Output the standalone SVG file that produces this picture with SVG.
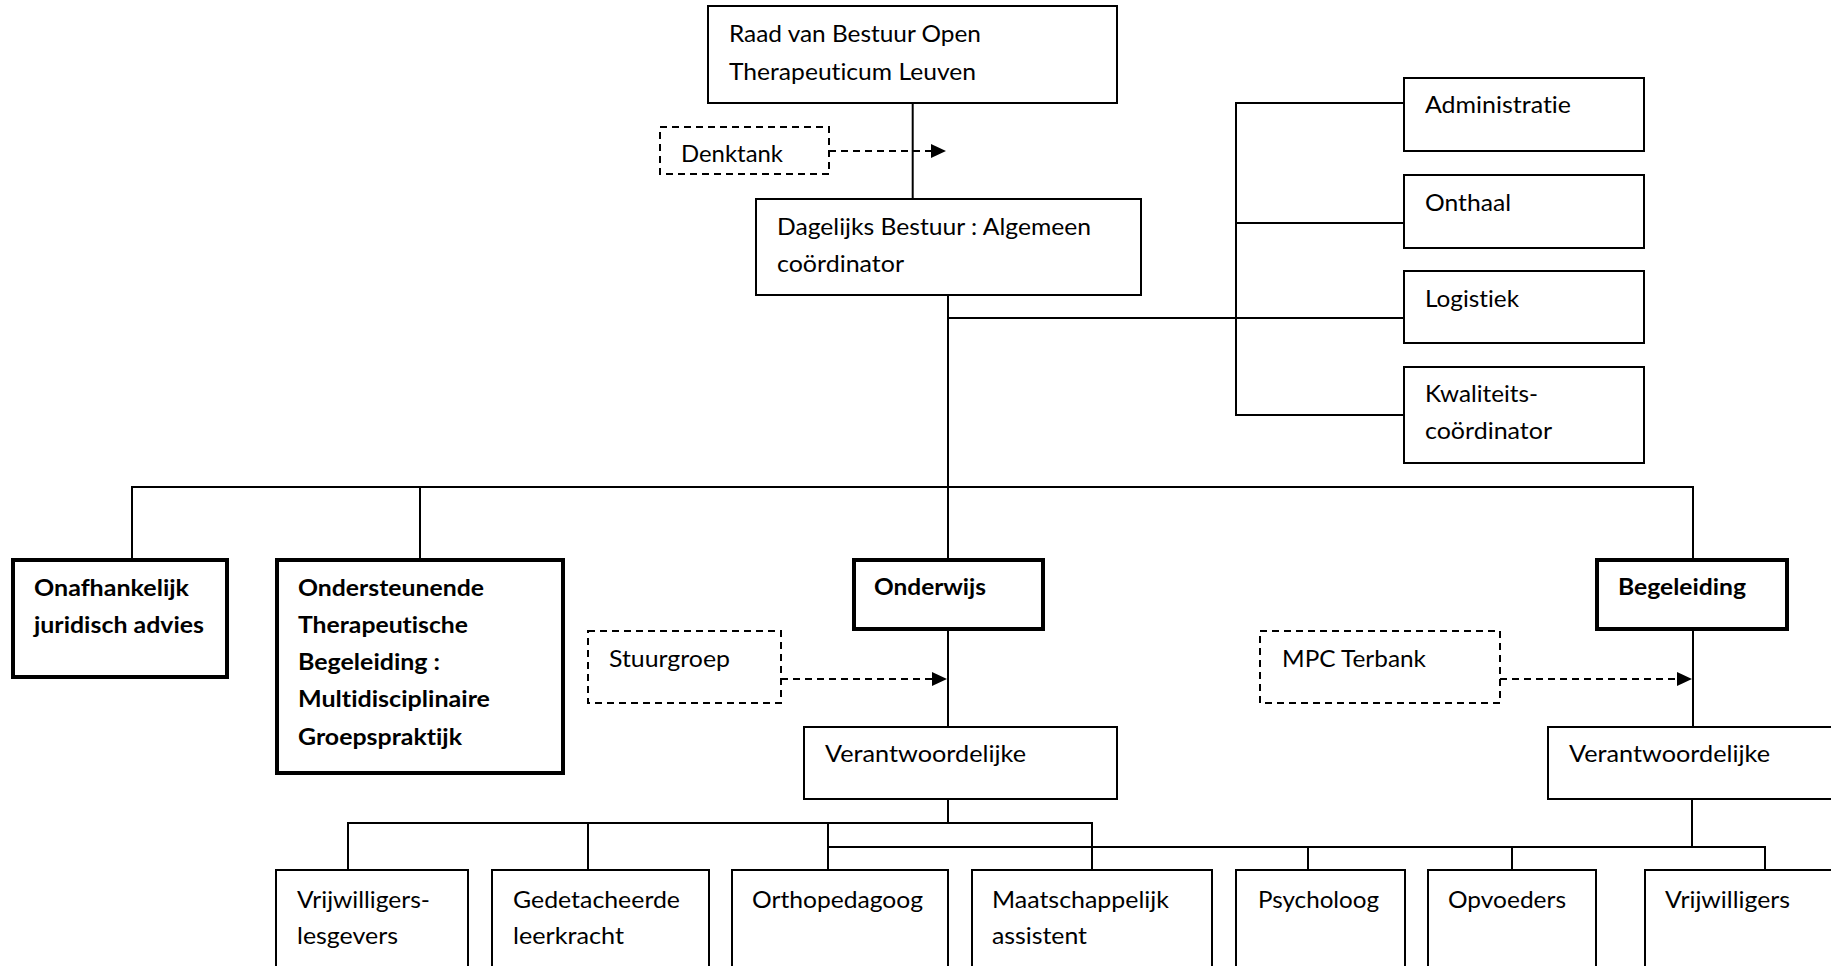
<svg xmlns="http://www.w3.org/2000/svg" width="1831" height="966" viewBox="0 0 1831 966">
<style>
.box{fill:#fff;stroke:#000;stroke-width:2}
.thick{stroke-width:4}
.dash{stroke-dasharray:7 5}
.c{fill:none;stroke:#000;stroke-width:2}
.t{font-family:Lato,"Open Sans","Liberation Sans",sans-serif;font-size:23.5px;fill:#000;font-variant-ligatures:none;font-feature-settings:"liga" 0}
.b{font-weight:700}
</style>
<defs>
<marker id="arr" markerUnits="userSpaceOnUse" markerWidth="16" markerHeight="16" refX="15" refY="7" orient="auto">
<path d="M0,0 L15,7 L0,14 z" fill="#000"/>
</marker>
</defs>
<rect width="1831" height="966" fill="#fff"/>
<g id="connectors">
<path class="c" d="M912.7,103 V199"/>
<path class="c" d="M948,295 V487"/>
<path class="c" d="M948,318 H1404"/>
<path class="c" d="M1404,103 H1236 V415 H1404 M1236,223 H1404"/>
<path class="c" d="M132,558 V487 H1693 V558 M420,487 V558 M948,487 V558"/>
<path class="c" d="M948,631 V727"/>
<path class="c" d="M1693,631 V727"/>
<path class="c" d="M948,799 V823 M348,870 V823 H1092 V870 M588,823 V870 M828,823 V870"/>
<path class="c" d="M1692,799 V847 M828,847 H1765 V870 M1308,847 V870 M1512,847 V870"/>
<path class="c dash" d="M829,151 H946" marker-end="url(#arr)"/>
<path class="c dash" d="M781,679 H947" marker-end="url(#arr)"/>
<path class="c dash" d="M1500,679 H1692" marker-end="url(#arr)"/>
</g>
<g id="raad"><rect class="box" x="708" y="6" width="409" height="97"/>
<text class="t" x="729" y="42" textLength="252" lengthAdjust="spacingAndGlyphs">Raad van Bestuur Open</text>
<text class="t" x="729" y="80" textLength="247" lengthAdjust="spacingAndGlyphs">Therapeuticum Leuven</text></g>
<g id="denktank"><rect class="box dash" x="660" y="127" width="169" height="47"/>
<text class="t" x="681" y="162" textLength="102" lengthAdjust="spacingAndGlyphs">Denktank</text></g>
<g id="dagelijks"><rect class="box" x="756" y="199" width="385" height="96"/>
<text class="t" x="777" y="235" textLength="314" lengthAdjust="spacingAndGlyphs">Dagelijks Bestuur : Algemeen</text>
<text class="t" x="777" y="272" textLength="127" lengthAdjust="spacingAndGlyphs">coördinator</text></g>
<g id="administratie"><rect class="box" x="1404" y="78" width="240" height="73"/>
<text class="t" x="1425" y="113" textLength="146" lengthAdjust="spacingAndGlyphs">Administratie</text></g>
<g id="onthaal"><rect class="box" x="1404" y="175" width="240" height="73"/>
<text class="t" x="1425" y="211" textLength="86" lengthAdjust="spacingAndGlyphs">Onthaal</text></g>
<g id="logistiek"><rect class="box" x="1404" y="271" width="240" height="72"/>
<text class="t" x="1425" y="307" textLength="94" lengthAdjust="spacingAndGlyphs">Logistiek</text></g>
<g id="kwaliteit"><rect class="box" x="1404" y="367" width="240" height="96"/>
<text class="t" x="1425" y="402" textLength="113" lengthAdjust="spacingAndGlyphs">Kwaliteits-</text>
<text class="t" x="1425" y="439" textLength="127" lengthAdjust="spacingAndGlyphs">coördinator</text></g>
<g id="onafhankelijk"><rect class="box thick" x="13" y="560" width="214" height="117"/>
<text class="t b" x="34" y="596" textLength="155" lengthAdjust="spacingAndGlyphs">Onafhankelijk</text>
<text class="t b" x="34" y="633" textLength="170" lengthAdjust="spacingAndGlyphs">juridisch advies</text></g>
<g id="ondersteunende"><rect class="box thick" x="277" y="560" width="286" height="213"/>
<text class="t b" x="298" y="596" textLength="186" lengthAdjust="spacingAndGlyphs">Ondersteunende</text>
<text class="t b" x="298" y="633" textLength="170" lengthAdjust="spacingAndGlyphs">Therapeutische</text>
<text class="t b" x="298" y="670" textLength="142" lengthAdjust="spacingAndGlyphs">Begeleiding :</text>
<text class="t b" x="298" y="707" textLength="192" lengthAdjust="spacingAndGlyphs">Multidisciplinaire</text>
<text class="t b" x="298" y="745" textLength="164" lengthAdjust="spacingAndGlyphs">Groepspraktijk</text></g>
<g id="onderwijs"><rect class="box thick" x="854" y="560" width="189" height="69"/>
<text class="t b" x="874" y="595" textLength="112" lengthAdjust="spacingAndGlyphs">Onderwijs</text></g>
<g id="begeleiding"><rect class="box thick" x="1597" y="560" width="190" height="69"/>
<text class="t b" x="1618" y="595" textLength="128" lengthAdjust="spacingAndGlyphs">Begeleiding</text></g>
<g id="stuurgroep"><rect class="box dash" x="588" y="631" width="193" height="72"/>
<text class="t" x="609" y="667" textLength="121" lengthAdjust="spacingAndGlyphs">Stuurgroep</text></g>
<g id="mpc"><rect class="box dash" x="1260" y="631" width="240" height="72"/>
<text class="t" x="1282" y="667" textLength="144" lengthAdjust="spacingAndGlyphs">MPC Terbank</text></g>
<g id="verantwoordelijke-onderwijs"><rect class="box" x="804" y="727" width="313" height="72"/>
<text class="t" x="825" y="762" textLength="201" lengthAdjust="spacingAndGlyphs">Verantwoordelijke</text></g>
<g id="verantwoordelijke-begeleiding"><rect class="box" x="1548" y="727" width="300" height="72"/>
<text class="t" x="1569" y="762" textLength="201" lengthAdjust="spacingAndGlyphs">Verantwoordelijke</text></g>
<g id="vrijwilligers-lesgevers"><rect class="box" x="276" y="870" width="192" height="110"/>
<text class="t" x="297" y="908" textLength="133" lengthAdjust="spacingAndGlyphs">Vrijwilligers-</text>
<text class="t" x="297" y="944" textLength="101" lengthAdjust="spacingAndGlyphs">lesgevers</text></g>
<g id="gedetacheerde"><rect class="box" x="492" y="870" width="217" height="110"/>
<text class="t" x="513" y="908" textLength="167" lengthAdjust="spacingAndGlyphs">Gedetacheerde</text>
<text class="t" x="513" y="944" textLength="111" lengthAdjust="spacingAndGlyphs">leerkracht</text></g>
<g id="orthopedagoog"><rect class="box" x="732" y="870" width="216" height="110"/>
<text class="t" x="752" y="908" textLength="171" lengthAdjust="spacingAndGlyphs">Orthopedagoog</text></g>
<g id="maatschappelijk"><rect class="box" x="972" y="870" width="240" height="110"/>
<text class="t" x="992" y="908" textLength="177" lengthAdjust="spacingAndGlyphs">Maatschappelijk</text>
<text class="t" x="992" y="944" textLength="95" lengthAdjust="spacingAndGlyphs">assistent</text></g>
<g id="psycholoog"><rect class="box" x="1236" y="870" width="169" height="110"/>
<text class="t" x="1258" y="908" textLength="121" lengthAdjust="spacingAndGlyphs">Psycholoog</text></g>
<g id="opvoeders"><rect class="box" x="1428" y="870" width="168" height="110"/>
<text class="t" x="1448" y="908" textLength="118" lengthAdjust="spacingAndGlyphs">Opvoeders</text></g>
<g id="vrijwilligers"><rect class="box" x="1645" y="870" width="200" height="110"/>
<text class="t" x="1665" y="908" textLength="125" lengthAdjust="spacingAndGlyphs">Vrijwilligers</text></g>
</svg>
